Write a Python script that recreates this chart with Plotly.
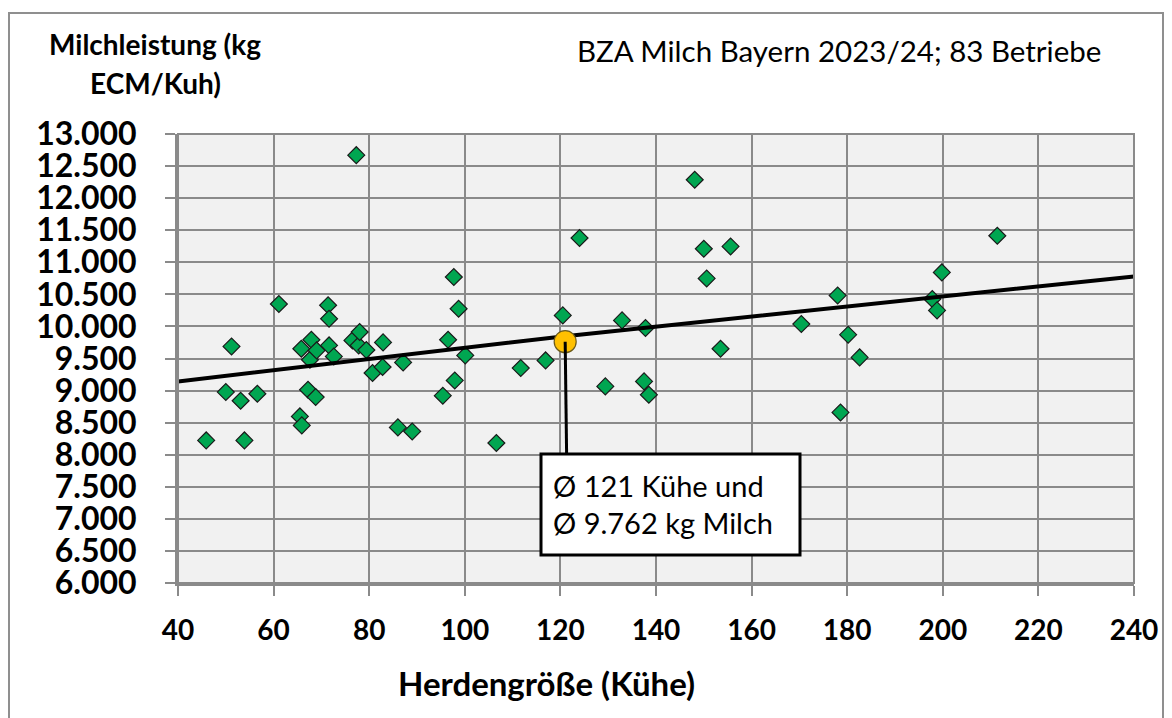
import plotly.graph_objects as go

# ---------------- data ----------------
herd_size = [45.9, 50.0, 51.2, 53.1, 53.9, 56.6, 61.1, 65.5, 65.8, 65.9,
             67.2, 67.6, 67.9, 68.8, 69.0, 71.4, 71.6, 71.6, 72.6, 76.5,
             77.3, 77.8, 78.0, 79.4, 80.7, 82.8, 82.9, 86.0, 87.1, 89.0,
             95.4, 96.5, 97.7, 97.9, 98.7, 100.1, 106.6, 111.7, 116.9, 120.5,
             124.0, 129.4, 132.9, 137.5, 137.8, 138.5, 148.1, 150.0, 150.6, 153.5,
             155.6, 170.4, 178.0, 178.6, 180.2, 182.6, 197.8, 198.8, 199.8, 211.4]
milk_yield = [8223, 8977, 9688, 8842, 8223, 8951, 10349, 8597, 9652, 8457,
              9013, 9481, 9793, 8899, 9626, 10330, 10120, 9704, 9532, 9782,
              12670, 9704, 9913, 9632, 9274, 9367, 9751, 8426, 9439, 8363,
              8920, 9793, 10770, 9158, 10276, 9548, 8182, 9351, 9470, 10172,
              11378, 9065, 10094, 9143, 9975, 8935, 12287, 11211, 10748, 9652,
              11247, 10037, 10483, 8659, 9871, 9517, 10427, 10250, 10842, 11414]

trend_x = [40, 120, 240]
trend_y = [9143, 9840, 10780]

mean_herd = 121
mean_milk = 9762

x_ticks = [40, 60, 80, 100, 120, 140, 160, 180, 200, 220, 240]
y_ticks = list(range(6000, 13001, 500))

title_text = "BZA Milch Bayern 2023/24; 83 Betriebe"
y_title_lines = ["Milchleistung (kg", "ECM/Kuh)"]
x_title_text = "Herdengröße (Kühe)"
box_lines = ["Ø 121 Kühe und", "Ø 9.762 kg Milch"]

# ---------------- geometry helpers ----------------
OFF = 8                      # page body margin
W, H = 1172 - OFF, 718 - OFF
L, R, T, B = 178 - OFF, 1134 - OFF, 134 - OFF, 583 - OFF
XR = (40, 240)
YR = (6000, 13000)


def px_x(px):
    """reference screen pixel -> paper x"""
    return (px - OFF - L) / (R - L)


def px_y(py):
    return (B - (py - OFF)) / (B - T)


def data_y(py):
    return YR[0] + px_y(py) * (YR[1] - YR[0])


FONT = "Lato"
GRID = "#8a8a8a"

fig = go.Figure()

fig.add_trace(go.Scatter(
    x=herd_size, y=milk_yield, mode="markers",
    marker=dict(symbol="diamond", size=13, color="#00A651",
                line=dict(color="#1a1a1a", width=1.2)),
    showlegend=False, hoverinfo="x+y"))

fig.add_trace(go.Scatter(
    x=trend_x, y=trend_y, mode="lines",
    line=dict(color="black", width=4), showlegend=False, hoverinfo="skip"))

fig.add_trace(go.Scatter(
    x=[mean_herd], y=[mean_milk], mode="markers",
    marker=dict(symbol="circle", size=22, color="#FFC000",
                line=dict(color="#6b5a1a", width=1.2)),
    showlegend=False, hoverinfo="x+y"))

# annotation box + connector
box_l, box_r, box_t, box_b = 541, 800, 454, 555
shapes = [
    dict(type="line", xref="x", yref="y", x0=mean_herd, y0=mean_milk,
         x1=mean_herd + 0.3, y1=data_y(box_t), line=dict(color="black", width=3),
         layer="above"),
    dict(type="rect", xref="paper", yref="paper",
         x0=px_x(box_l), x1=px_x(box_r), y0=px_y(box_b), y1=px_y(box_t),
         fillcolor="white", line=dict(color="black", width=3), layer="above"),
    # outer chart frame
    dict(type="rect", xref="paper", yref="paper",
         x0=px_x(9), x1=px_x(1163), y0=px_y(740), y1=px_y(13),
         line=dict(color="#8f8f8f", width=2), fillcolor="rgba(0,0,0,0)",
         layer="below"),
    # plot frame (top / right)
    dict(type="rect", xref="paper", yref="paper", x0=0, x1=1, y0=0, y1=1,
         line=dict(color=GRID, width=2), fillcolor="rgba(0,0,0,0)", layer="above"),
]

annotations = [
    dict(text=title_text, xref="paper", yref="paper", x=px_x(575), y=px_y(50),
         xanchor="left", yanchor="middle", showarrow=False,
         font=dict(family=FONT, size=29.5, color="black")),
    dict(text=f"<b>{y_title_lines[0]}</b>", xref="paper", yref="paper",
         x=px_x(155), y=px_y(44), xanchor="center", yanchor="middle", showarrow=False,
         font=dict(family=FONT, size=28, color="black")),
    dict(text=f"<b>{y_title_lines[1]}</b>", xref="paper", yref="paper",
         x=px_x(155), y=px_y(83), xanchor="center", yanchor="middle", showarrow=False,
         font=dict(family=FONT, size=28, color="black")),
    dict(text=f"<b>{x_title_text}</b>", xref="paper", yref="paper",
         x=px_x(546), y=px_y(683), xanchor="center", yanchor="middle", showarrow=False,
         font=dict(family=FONT, size=33, color="black")),
    dict(text=box_lines[0], xref="paper", yref="paper",
         x=px_x(551), y=px_y(485), xanchor="left", yanchor="middle", showarrow=False,
         font=dict(family=FONT, size=29, color="black")),
    dict(text=box_lines[1], xref="paper", yref="paper",
         x=px_x(551), y=px_y(522), xanchor="left", yanchor="middle", showarrow=False,
         font=dict(family=FONT, size=29, color="black")),
]

fig.update_layout(
    width=W, height=H,
    margin=dict(l=L, r=W - R, t=T, b=H - B),
    paper_bgcolor="white", plot_bgcolor="#F1F1F1",
    separators=",.",
    shapes=shapes, annotations=annotations,
    font=dict(family=FONT, color="black"),
    xaxis=dict(range=list(XR), tickvals=x_ticks, showgrid=True, gridcolor=GRID,
               gridwidth=2, zeroline=False, showline=True, linecolor=GRID,
               linewidth=3, ticks="outside", ticklen=10, tickwidth=2,
               tickcolor=GRID, ticklabelstandoff=10,
               tickfont=dict(family=FONT, size=28, color="black", weight="bold")),
    yaxis=dict(range=list(YR), tickvals=y_ticks, tickformat=",d", showgrid=True,
               gridcolor=GRID, gridwidth=2, zeroline=False, showline=True,
               linecolor=GRID, linewidth=3, ticks="outside", ticklen=10,
               tickwidth=2, tickcolor=GRID, ticklabelstandoff=22,
               tickfont=dict(family=FONT, size=32, color="black", weight="bold")),
)

fig.write_html("out.html")
